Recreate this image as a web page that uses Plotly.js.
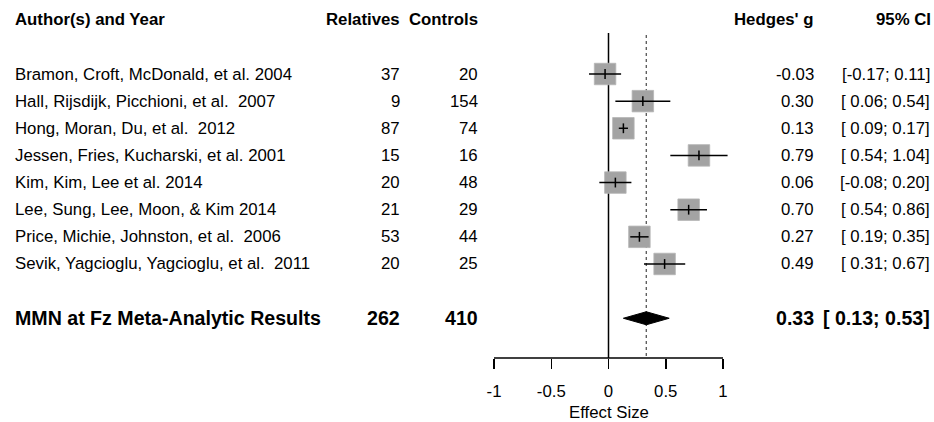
<!DOCTYPE html>
<html>
<head>
<meta charset="utf-8">
<script src="https://cdn.plot.ly/plotly-3.0.1.min.js"></script>
<style>html,body{margin:0;padding:0;background:#fff;}#chart{width:934px;height:422px;}</style>
</head>
<body>
<div id="chart"></div>
<script>
// ---- data ----
const studies = [
  "Bramon, Croft, McDonald, et al. 2004",
  "Hall, Rijsdijk, Picchioni, et al.  2007",
  "Hong, Moran, Du, et al.  2012",
  "Jessen, Fries, Kucharski, et al. 2001",
  "Kim, Kim, Lee et al. 2014",
  "Lee, Sung, Lee, Moon, & Kim 2014",
  "Price, Michie, Johnston, et al.  2006",
  "Sevik, Yagcioglu, Yagcioglu, et al.  2011"
];
const relatives = [37, 9, 87, 15, 20, 21, 53, 20];
const controls = [20, 154, 74, 16, 48, 29, 44, 25];
const hedgesG = [-0.03, 0.30, 0.13, 0.79, 0.06, 0.70, 0.27, 0.49];
const ciLower = [-0.17, 0.06, 0.09, 0.54, -0.08, 0.54, 0.19, 0.31];
const ciUpper = [0.11, 0.54, 0.17, 1.04, 0.20, 0.86, 0.35, 0.67];

const summaryLabel = "MMN at Fz Meta-Analytic Results";
const summaryRelatives = 262;
const summaryControls = 410;
const summaryG = 0.33;
const summaryLower = 0.13;
const summaryUpper = 0.53;

const headers = ["Author(s) and Year", "Relatives", "Controls", "Hedges' g", "95% CI"];
const tickVals = [-1, -0.5, 0, 0.5, 1];
const tickText = ["-1", "-0.5", "0", "0.5", "1"];
const xTitle = "Effect Size";

// ---- helpers ----
const W = 934, H = 422;
const rows = studies.map((_, i) => i);
const summaryRow = studies.length + 1;
const headerRow = -2;
const fmt = v => v.toFixed(2);
const fmtCI = (lo, hi) => "[" + (lo < 0 ? "" : " ") + fmt(lo) + "; " + fmt(hi) + "]";
const px = p => p / W;
const FONT = "Liberation Sans, Arial, Helvetica, sans-serif";
const fs = 16.8;

const spacing = 27.14, row0 = 74, plotH = 358;
const yTop = (0 - row0) / spacing;
const yBot = (plotH - row0) / spacing;
const unit = 114.5, zeroPx = 608.5;

const annotations = [];
function addText(text, xPix, y, anchor, bold, size) {
  annotations.push({
    text: bold ? "<b>" + text + "</b>" : text,
    x: px(xPix), xref: "paper", xanchor: anchor,
    y: y, yref: "y", yanchor: "middle",
    showarrow: false,
    font: {family: FONT, size: size || fs, color: "#000"}
  });
}
// headers
addText(headers[0], 13, headerRow, "left", true);
addText(headers[1], 402, headerRow, "right", true);
addText(headers[2], 480, headerRow, "right", true);
addText(headers[3], 816, headerRow, "right", true);
addText(headers[4], 933, headerRow, "right", true);
// study rows
rows.forEach(i => {
  addText(studies[i], 13, i, "left", false);
  addText(String(relatives[i]), 402, i, "right", false);
  addText(String(controls[i]), 480, i, "right", false);
  addText(fmt(hedgesG[i]), 816, i, "right", false);
  addText(fmtCI(ciLower[i], ciUpper[i]), 932, i, "right", false);
});
// summary
const sfs = 19.6;
addText(summaryLabel, 13, summaryRow, "left", true, sfs);
addText(String(summaryRelatives), 402, summaryRow, "right", true, sfs);
addText(String(summaryControls), 480, summaryRow, "right", true, sfs);
addText(fmt(summaryG), 816, summaryRow, "right", true, sfs);
addText(fmtCI(summaryLower, summaryUpper), 932, summaryRow, "right", true, sfs);
// x axis title, centred on 0 like the reference
annotations.push({
  text: xTitle, x: 0, xref: "x", xanchor: "center",
  y: (plotH - 412) / plotH, yref: "paper", yanchor: "middle",
  showarrow: false, font: {family: FONT, size: fs, color: "#000"}
});

// CI segments
const segX = [], segY = [];
rows.forEach(i => { segX.push(ciLower[i], ciUpper[i], null); segY.push(i, i, null); });

const dh = 0.24;
const traces = [
  {
    x: hedgesG, y: rows, type: "scatter", mode: "markers",
    marker: {symbol: "square", size: 21.5, color: "#a3a3a3", line: {width: 0.8, color: "#b5b5b5"}},
    hoverinfo: "skip"
  },
  {
    x: segX, y: segY, type: "scatter", mode: "lines",
    line: {color: "#000", width: 1.5}, hoverinfo: "skip"
  },
  {
    x: hedgesG, y: rows, type: "scatter", mode: "markers",
    marker: {symbol: "line-ns-open", size: 7, color: "#000", line: {width: 1.5, color: "#000"}},
    hoverinfo: "skip"
  },
  {
    x: [summaryLower, summaryG, summaryUpper, summaryG, summaryLower],
    y: [summaryRow, summaryRow - dh, summaryRow, summaryRow + dh, summaryRow],
    type: "scatter", mode: "lines", fill: "toself", fillcolor: "#000",
    line: {color: "#000", width: 1}, hoverinfo: "skip"
  }
];

const layout = {
  width: W, height: H,
  margin: {l: 0, r: 0, t: 0, b: H - plotH, pad: 0},
  paper_bgcolor: "#fff", plot_bgcolor: "#fff",
  showlegend: false,
  xaxis: {
    range: [-zeroPx / unit, (W - zeroPx) / unit],
    tickvals: tickVals, ticktext: tickText,
    ticks: "outside", ticklen: 10, tickwidth: 1.5, tickcolor: "#000",
    ticklabelstandoff: 8,
    showline: false, showgrid: false, zeroline: false,
    tickfont: {family: FONT, size: fs, color: "#000"},
    fixedrange: true
  },
  yaxis: {
    range: [yBot, yTop], showticklabels: false, showgrid: false, zeroline: false,
    showline: false, ticks: "", fixedrange: true
  },
  shapes: [
    {type: "line", xref: "x", yref: "paper", x0: tickVals[0], x1: tickVals[tickVals.length - 1], y0: 0, y1: 0,
     line: {color: "#000", width: 1.5}},
    {type: "line", xref: "x", yref: "y", x0: 0, x1: 0, y0: -1.51, y1: yBot, layer: "below",
     line: {color: "#000", width: 1.5}},
    {type: "line", xref: "x", yref: "y", x0: summaryG, x1: summaryG, y0: -1.44, y1: yBot, layer: "below",
     line: {color: "#555", width: 1.3, dash: "dot"}}
  ],
  annotations: annotations
};

Plotly.newPlot("chart", traces, layout, {displayModeBar: false, staticPlot: true});
</script>
</body>
</html>
